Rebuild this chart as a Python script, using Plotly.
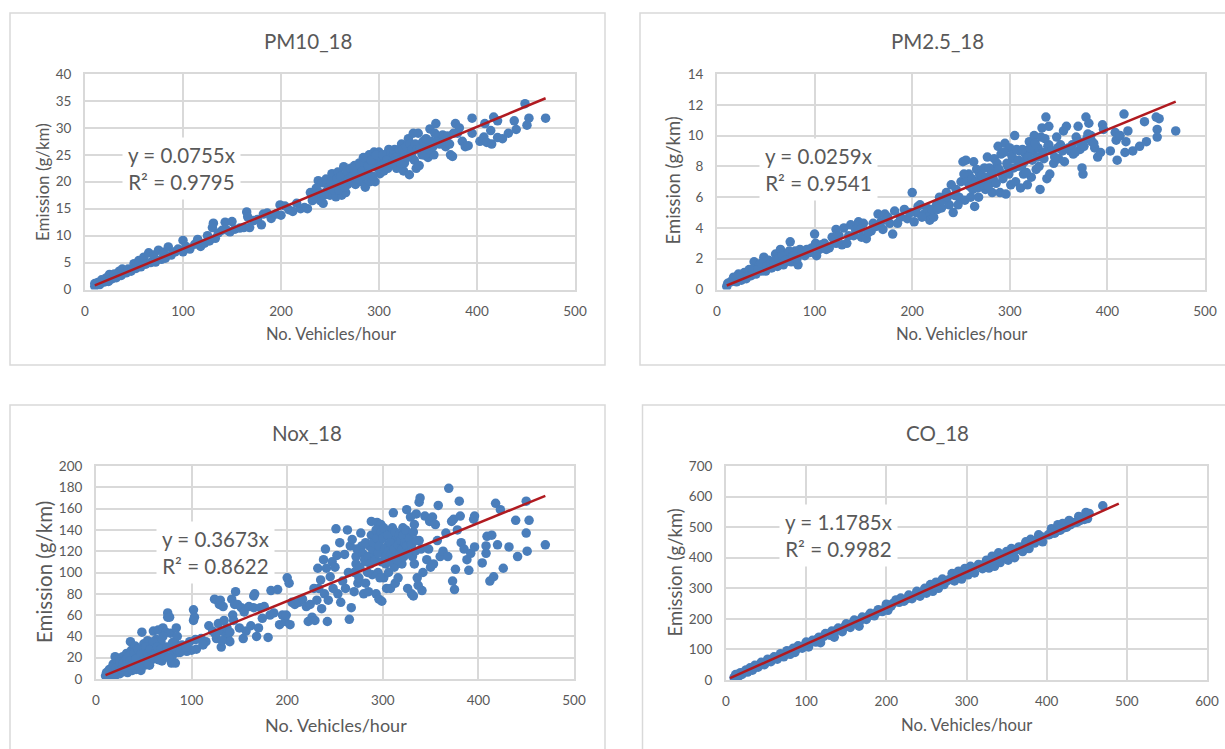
import plotly.graph_objects as go

W, H = 1225, 749

pm10_x = [10,10,13,15,17,20,22,24,25,28,30,32,35,37,38,42,44,47,50,52,55,57,60,62,65,67,70,72,75,78,80,82,85,88,92,95,100,100,103,107,112,115,118,122,125,127,130,131,133,136,140,143,145,148,150,153,158,162,165,166,168,172,176,180,182,186,190,195,199,200,204,208,212,216,220,224,227,230,232,235,238,240,242,243,245,247,250,252,255,256,258,260,262,264,266,268,270,272,275,276,278,280,282,285,286,288,290,291,293,295,296,298,300,301,303,305,307,310,311,313,316,318,320,323,325,327,330,331,333,335,336,338,340,341,343,346,349,350,352,354,356,358,360,362,365,368,373,375,378,380,382,385,388,391,395,395,403,407,408,410,414,415,417,421,421,426,432,438,440,449,451,453,470]
pm10_y = [0.6,1.1,1.3,0.9,1.8,1.4,2.2,1.5,2.8,2.0,2.9,2.2,3.4,2.6,3.8,3.1,3.8,3.4,4.8,3.9,5.4,4.2,6.0,4.7,6.8,5.0,6.4,5.1,7.3,5.6,6.9,5.8,7.9,6.4,7.0,7.5,9.1,7.0,8.0,7.5,8.4,9.3,8.0,8.6,10.0,9.0,11.5,12.3,9.5,10.5,11.0,12.5,11.0,10.7,12.6,11.2,11.4,11.5,14.4,13.5,11.5,12.8,13.0,12.0,14.0,14.2,13.2,14.0,15.7,13.8,15.5,14.8,14.5,16.0,15.0,15.2,15.0,18.0,16.5,17.5,20.2,16.5,19.8,16.0,18.0,19.5,17.5,21.5,19.0,17.2,21.8,20.0,17.5,22.8,18.0,19.5,21.0,20.0,23.0,19.5,22.0,23.5,20.0,24.0,19.0,22.0,25.0,20.0,23.0,25.5,20.0,24.0,25.5,21.5,24.0,22.0,25.0,26.0,23.0,24.5,26.0,22.5,25.0,27.0,22.0,25.0,28.0,21.3,25.0,29.0,24.0,22.5,29.0,23.0,27.0,25.0,26.5,24.5,29.8,27.0,25.0,30.8,28.0,27.0,28.7,26.5,25.0,24.7,30.8,29.0,30.0,27.5,26.5,26.7,31.8,29.0,27.5,28.3,30.8,27.3,29.5,27.0,32.0,31.3,28.2,28.0,29.0,31.3,29.7,34.5,30.5,31.8,31.8]
pm10_dense_x = [233,236,239,244,246,249,251,254,257,259,261,263,265,267,269,271,273,274,277,279,281,283,284,287,289,292,294,297,299,302,304,306,308,309,312,314,315,317,319,321,322,324,326,328,329,332,334,337,339,342,344,345,347,348,351,353,355,357,366,370,372,376]
pm10_dense_y = [17,18.8,18,17.5,20.5,19,20,18.5,20.5,18.5,21,19.5,19,22,20.5,22.5,21,22.5,21.5,20.5,23,22,24.5,21,23,24,21,25,22.5,23,25,23.5,24,22.5,25.5,23.5,25,24.5,24,26,23.5,26,23.5,26.5,24.5,27,26,27,26,26,25,27.5,25,28,26,27.5,26.5,29,27.5,28.5,27,29]

pm25_x = [10,11,14,17,20,22,25,28,30,33,35,38,40,43,46,48,50,53,56,60,62,65,68,72,75,76,80,83,85,90,95,100,101,102,105,110,115,118,122,122,128,130,133,137,140,145,148,150,153,158,163,165,170,172,177,180,182,188,192,195,200,202,204,208,212,216,218,222,225,228,230,235,238,240,242,245,248,252,255,254,258,260,263,264,266,268,272,275,277,280,282,285,288,290,292,295,296,298,300,301,303,305,306,308,310,311,314,316,318,320,322,324,325,327,329,331,333,335,337,338,340,340,341,345,348,350,352,355,358,362,365,368,370,372,374,375,378,379,381,384,387,390,393,395,396,403,408,409,410,413,417,418,419,421,426,433,438,440,450,451,451,453,470]
pm25_y = [0.2,0.4,0.5,0.8,0.5,1.0,0.6,1.1,0.7,1.3,0.9,1.8,1.0,1.6,1.2,2.1,1.2,1.9,1.4,2.3,1.5,2.6,1.6,2.3,3.1,1.8,2.5,1.6,2.6,2.2,2.4,3.6,3.0,2.2,2.6,3.0,2.7,3.4,3.0,3.9,2.9,4.0,3.0,4.2,3.5,4.4,3.4,4.3,3.3,3.8,4.1,4.9,3.9,4.9,4.3,3.6,5.1,4.7,5.2,4.6,6.3,4.4,5.0,5.5,4.9,5.0,4.5,4.7,5.5,6.0,5.3,6.3,5.5,6.8,5.0,6.5,6.0,8.3,8.4,5.8,7.5,6.0,8.3,5.4,7.8,6.0,7.0,6.5,8.6,7.0,6.3,7.8,9.3,6.3,7.5,9.5,6.2,8.0,9.2,6.8,8.5,10.0,7.0,8.0,9.0,6.6,7.5,8.8,6.8,9.6,7.3,9.0,10.0,7.8,9.2,6.5,10.5,8.5,11.2,7.2,10.6,9.4,7.5,8.2,9.9,8.5,9.4,10.3,10.6,9.0,8.8,9.9,10.6,9.1,7.9,7.5,11.2,9.8,10.8,9.6,9.2,8.6,8.9,10.7,10.4,9.0,10.2,9.7,8.4,10.0,11.4,8.9,9.6,10.3,9.0,9.3,10.9,9.6,11.2,10.4,9.9,11.1,10.3]
pm25_dense_x = [20,24,27,32,36,42,45,51,55,58,63,67,70,74,78,82,87,92,97,107,112,120,125,135,142,147,155,160,168,175,185,198,206,210,215,220,226,232,236,244,247,250,253,256,259,261,262,265,267,269,271,273,274,276,278,279,281,283,284,286,287,289,291,293,294,297,299,302,304,307,309,312,313,315,317,319,321,323,326,328,330,332,334,336,339,343,346,349,354,356,360,364,367,371,376,380,383,386]
pm25_dense_y = [0.8,0.9,0.8,0.9,1.3,1.3,1.7,1.5,1.7,1.8,2.0,2.2,1.9,2.5,2.2,2.0,2.4,2.6,2.7,2.9,2.6,3.2,3.5,3.5,3.9,3.9,3.7,4.3,4.4,4.7,4.3,5.0,5.4,4.7,5.3,5.2,5.2,5.8,6.0,6.1,5.5,7.0,7.5,7.0,6.7,7.2,6.5,7.0,6.6,7.5,7.4,6.8,7.9,7.3,6.7,7.9,7.5,7.2,8.5,6.9,8.2,7.8,8.8,7.2,8.9,8.2,7.5,8.7,7.9,9.1,8.4,8.0,9.1,8.3,7.6,8.6,9.2,8.4,9.5,8.6,8.0,9.9,8.9,9.8,9.3,9.0,8.6,9.2,9.0,8.3,9.2,9.4,8.9,9.6,9.3,10.1,10.0,9.5]

nox_x = [10,11,13,14,15,16,17,18,20,20,22,23,24,25,26,28,29,30,31,32,33,34,35,36,37,38,39,40,41,42,43,44,46,47,48,49,50,51,53,54,55,56,58,60,61,62,63,65,66,68,69,70,71,73,75,75,76,77,78,79,80,82,83,84,85,86,88,92,95,98,100,102,102,103,104,105,110,112,115,118,122,124,126,128,129,130,131,132,133,134,136,138,140,142,143,144,145,146,148,150,152,154,155,157,160,162,165,165,166,168,170,172,174,176,180,182,183,186,190,192,195,198,199,200,202,203,205,208,212,216,220,222,224,226,228,229,231,232,233,235,236,238,239,240,241,242,243,245,247,248,250,251,252,253,255,256,258,260,261,263,264,265,266,267,268,270,272,274,275,277,278,280,282,283,285,286,288,289,290,291,293,294,295,296,297,298,299,300,301,302,303,304,305,306,307,308,310,311,312,313,314,315,316,318,320,321,323,325,326,327,329,330,331,332,333,334,335,336,337,338,338,339,340,341,342,344,346,348,349,350,352,353,355,357,358,360,363,366,368,369,372,373,374,375,376,378,380,381,382,385,388,390,392,395,396,396,404,408,408,409,412,414,416,418,420,423,426,432,439,441,450,450,451,453,470]
nox_y = [3,6,2,9,4,1.5,11,6,3,21,14,8,18,5,12,21,7,16,9,24,6,19,12,35,27,8,20,14,31,9,24,17,28,8,44,20,33,13,25,36,18,13,30,45,19,27,37,46,21,35,17,48,25,44,58,62,29,58,43,15,22,35,15,48,40,25,28,30,26,35,27,65,55,58,37,28,38,32,35,50,45,75,38,52,70,74,30,45,68,55,40,38,35,75,60,55,70,82,70,48,67,38,63,45,68,50,78,67,80,40,48,67,57,68,39,60,83,62,84,51,60,54,60,95,90,51,72,70,72,75,68,54,70,58,85,55,74,104,85,93,66,112,80,122,104,54,74,96,110,85,105,141,116,80,128,72,92,117,85,140,100,56,125,67,131,82,115,90,95,137,125,80,90,110,82,125,148,98,118,135,80,147,100,75,130,145,73,120,95,140,108,85,125,100,135,85,128,156,105,90,132,115,95,125,108,142,122,159,85,136,152,80,115,78,145,120,155,95,88,166,130,170,122,83,100,153,112,122,148,105,152,108,145,130,163,115,120,137,115,179,148,92,150,84,103,140,167,153,128,122,112,102,118,150,124,153,109,118,125,134,92,135,96,165,126,159,104,124,149,115,167,137,120,149,126]
nox_dense_x = [15,18,19,21,22,24,25,27,28,30,32,33,35,36,38,40,42,44,45,47,50,52,54,55,57,59,60,62,64,66,68,70,72,74,76,80,84,88,90,94,112,125,132,137,140,270,272,273,276,279,281,282,284,285,287,288,289,290,292,293,294,295,296,297,298,299,300,301,302,303,305,306,307,308,309,310,312,313,315,316,317,318,319,320,321,322,323,324,325,326,328,330,332,333,335]
nox_dense_y = [8,14,5,10,18,12,16,9,15,11,19,14,22,17,13,25,19,28,12,23,18,30,24,14,28,20,35,24,30,18,28,40,22,30,20,34,28,25,32,30,33,42,36,48,44,100,108,122,105,118,112,128,100,115,108,135,122,128,112,140,132,118,125,95,138,110,132,142,122,115,135,120,110,128,118,142,122,138,112,126,135,118,130,122,135,115,128,140,125,118,132,126,138,108,130]

co_x = [10,12,15,18,20,25,27,30,33,36,40,44,48,52,56,60,64,68,72,76,80,84,86,90,95,100,103,108,112,116,118,124,130,132,135,140,145,150,155,160,165,166,170,175,180,185,190,195,200,202,208,212,218,222,228,232,238,242,248,250,255,258,262,265,270,272,278,282,285,290,294,298,302,305,310,315,320,325,328,332,335,340,342,346,350,352,356,360,365,370,374,378,380,385,390,394,395,402,406,410,414,417,420,425,428,435,440,447,449,451,453,470]
co_y = [8,18,10,24,18,33,26,40,32,48,42,58,50,68,60,76,68,86,76,96,84,104,90,112,104,124,108,130,124,140,122,152,146,160,140,170,158,184,172,196,186,176,206,198,218,210,230,224,248,228,250,262,268,258,278,266,290,274,300,284,312,290,320,300,330,312,328,348,324,356,330,365,344,372,350,378,364,392,366,405,372,416,384,408,420,392,430,400,435,420,452,430,460,448,475,468,452,475,495,480,508,490,512,500,522,515,535,525,548,528,545,570]
co_dense_x = [14,22,32,38,46,54,62,70,78,88,98,106,114,122,128,138,148,158,168,178,188,198,206,216,226,236,246,252,260,268,276,288,296,300,308,318,322,330,338,344,348,354,358,362,368,372,376,382,388,392,404,408,412,416,422,430,438,442,450]
co_dense_y = [14,25,36,44,53,62,72,81,91,102,113,124,134,143,150,162,174,186,197,210,221,233,242,254,266,278,290,296,306,316,325,340,349,354,362,374,378,388,398,404,410,416,422,426,434,438,444,450,458,462,476,482,486,492,498,508,516,522,530]

trend_x = [[10, 470], [10, 470], [10, 470], [5, 490]]
trend_y = [[0.75, 35.5], [0.26, 12.2], [3.7, 172], [6, 577]]

titles = ["PM10_18", "PM2.5_18", "Nox_18", "CO_18"]
equations = ["y = 0.0755x<br>R² = 0.9795", "y = 0.0259x<br>R² = 0.9541",
             "y = 0.3673x<br>R² = 0.8622", "y = 1.1785x<br>R² = 0.9982"]
x_title = "No. Vehicles/hour"
y_title = "Emission (g/km)"
series_x = [pm10_x + pm10_dense_x, pm25_x + pm25_dense_x, nox_x + nox_dense_x, co_x + co_dense_x]
series_y = [pm10_y + pm10_dense_y, pm25_y + pm25_dense_y, nox_y + nox_dense_y, co_y + co_dense_y]

# page pixels: frame (x0,y0,x1,y1), plot area (x0,y0,x1,y1)
frames = [(10, 13, 605, 365), (640, 13, 1300, 365), (10, 405, 605, 800), (642.5, 405, 1300, 800)]
plots = [(85, 74, 575, 289.5), (717, 74, 1205, 289.5), (96, 466, 574, 679), (726, 466, 1207, 680)]
x_ranges = [(0, 500, 100), (0, 500, 100), (0, 500, 100), (0, 600, 100)]
y_ranges = [(0, 40, 5), (0, 14, 2), (0, 200, 20), (0, 700, 100)]
eq_pos = [(98, 22.4), (103.5, 7.8), (125.5, 119), (140, 472)]
title_pos = [(308, 41), (937, 41), (307, 433), (937, 433)]
xtitle_pos = [(331, 334, 16.5), (961, 334, 16.7), (336, 725, 18), (966, 725, 16.7)]
ytitle_pos = [(42, 182, 17), (672.5, 181, 18.5), (44, 572, 20.5), (674.5, 573, 18.5)]


def fx(p):
    return p / W


def fy(p):
    return 1 - p / H


GRID = "#d9d9d9"
TXT = "#595959"
FONT = "Lato, 'Open Sans', sans-serif"
HIDDEN = "rgba(0,0,0,0)"

fig = go.Figure()
shapes, annotations = [], []
layout = {}
for i in range(4):
    n = "" if i == 0 else str(i + 1)
    px0, py0, px1, py1 = plots[i]
    bx0, by0, bx1, by1 = frames[i]
    shapes.append(dict(type="rect", xref="paper", yref="paper", x0=fx(bx0), x1=fx(bx1),
                       y0=fy(by1), y1=fy(by0), line=dict(color="#d9d9d9", width=1.5),
                       fillcolor=HIDDEN, layer="below"))
    fig.add_trace(go.Scatter(x=series_x[i], y=series_y[i], mode="markers", xaxis="x" + n, yaxis="y" + n,
                             marker=dict(color="#4a7ebb", size=9.5), showlegend=False))
    fig.add_trace(go.Scatter(x=trend_x[i], y=trend_y[i], mode="lines", xaxis="x" + n, yaxis="y" + n,
                             line=dict(color="#b01a20", width=2.5), showlegend=False))
    xr, yr = x_ranges[i], y_ranges[i]
    layout["xaxis" + n] = dict(domain=[fx(px0), fx(px1)], range=[xr[0], xr[1]], dtick=xr[2], anchor="y" + n,
                               showgrid=True, gridcolor=GRID, gridwidth=2, showline=True, linecolor=GRID,
                               linewidth=2, mirror=True, zeroline=False, automargin=False,
                               ticks="outside", ticklen=8, tickcolor=HIDDEN,
                               tickfont=dict(size=13.5, color=TXT))
    layout["yaxis" + n] = dict(domain=[fy(py1), fy(py0)], range=[yr[0], yr[1]], dtick=yr[2], anchor="x" + n,
                               showgrid=True, gridcolor=GRID, gridwidth=2, showline=True, linecolor=GRID,
                               linewidth=2, mirror=True, zeroline=False, automargin=False,
                               ticks="outside", ticklen=9, tickcolor=HIDDEN,
                               tickfont=dict(size=13.5, color=TXT))
    annotations.append(dict(text=titles[i], xref="paper", yref="paper", x=fx(title_pos[i][0]), y=fy(title_pos[i][1]),
                            showarrow=False, xanchor="center", yanchor="middle", font=dict(size=20.5, color=TXT)))
    annotations.append(dict(text=x_title, xref="paper", yref="paper", x=fx(xtitle_pos[i][0]), y=fy(xtitle_pos[i][1]),
                            showarrow=False, xanchor="center", yanchor="middle",
                            font=dict(size=xtitle_pos[i][2], color=TXT)))
    annotations.append(dict(text=y_title, xref="paper", yref="paper", x=fx(ytitle_pos[i][0]), y=fy(ytitle_pos[i][1]),
                            showarrow=False, xanchor="center", yanchor="middle", textangle=-90,
                            font=dict(size=ytitle_pos[i][2], color=TXT)))
    annotations.append(dict(text=equations[i], xref="x" + n, yref="y" + n, x=eq_pos[i][0], y=eq_pos[i][1],
                            showarrow=False, bgcolor="white", align="center", borderpad=5,
                            font=dict(size=20.5, color=TXT)))

fig.update_layout(width=W, height=H, margin=dict(l=0, r=0, t=0, b=0), paper_bgcolor="white", plot_bgcolor="white",
                  font=dict(family=FONT, color=TXT), shapes=shapes, annotations=annotations, **layout)
fig.write_html("out.html", config={"displayModeBar": False},
               post_script="document.body.style.margin='0';")
